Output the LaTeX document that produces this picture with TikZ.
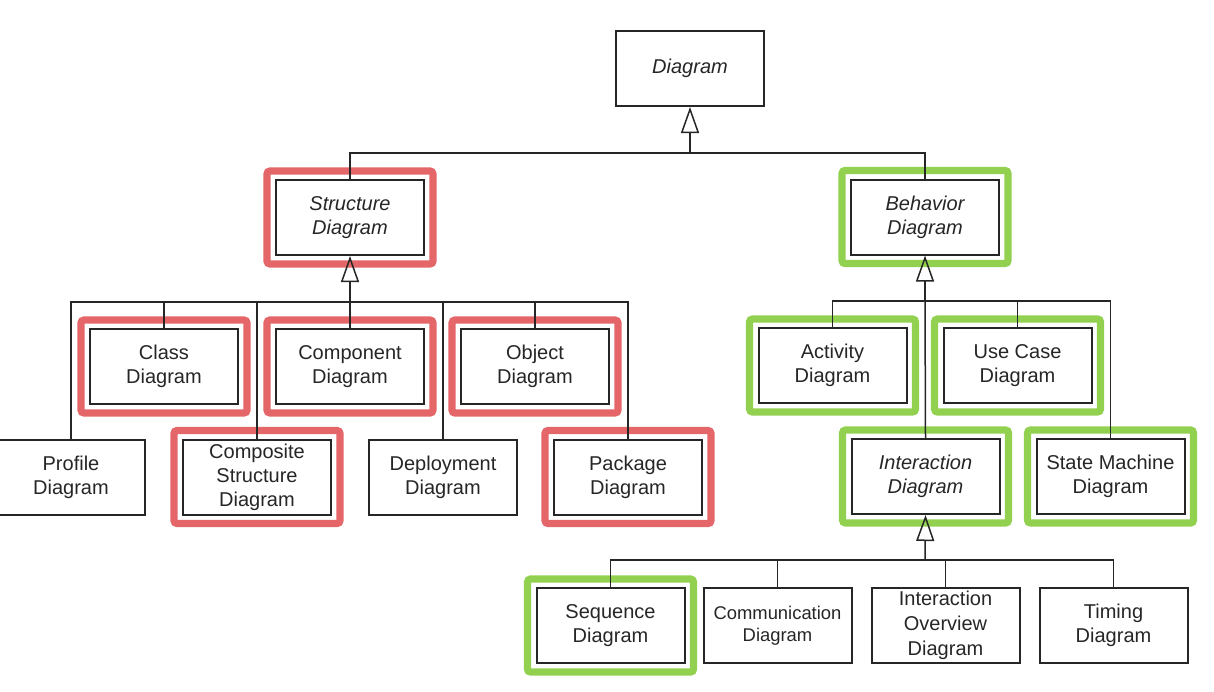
\documentclass[tikz,border=0pt]{standalone}
\usepackage{fontspec}
\setmainfont{Liberation Sans}
\usetikzlibrary{arrows.meta,fit}
\definecolor{hlred}{RGB}{228,102,104}
\definecolor{hlgreen}{RGB}{146,208,80}
\tikzset{font=\fontsize{10}{12}\selectfont,
  box/.style={draw=black!85,line width=1pt,fill=white,text=black!85,
    minimum width=74pt,minimum height=37.5pt,inner sep=0pt,align=center},
  abstract/.style={box,font=\fontsize{10}{12}\selectfont\itshape},
  link/.style={draw=black!85,line width=0.75pt},
  inherit/.style={link,-{Triangle[open,length=13pt,width=9pt]}},
  mark red/.style={draw=hlred,line width=3.6pt,inner sep=4pt,rounded corners=1.5pt},
  mark green/.style={draw=hlgreen,line width=3.6pt,inner sep=4pt,rounded corners=1.5pt}}
\begin{document}
\begin{tikzpicture}[x=0.5pt,y=-0.5pt]
  \useasboundingbox (0,0) rectangle (1214,691);
  % top
  \node[abstract] (diagram) at (690,68.5) {Diagram};
  \node[abstract] (structure) at (350,217.5) {Structure\\Diagram};
  \node[abstract] (behavior) at (925,217) {Behavior\\Diagram};
  % structure diagrams
  \node[box] (class) at (164,366.5) {Class\\Diagram};
  \node[box] (component) at (350,366.5) {Component\\Diagram};
  \node[box] (object) at (535,366.5) {Object\\Diagram};
  \node[box] (profile) at (71,477) {Profile\\Diagram};
  \node[box] (composite) at (257,477) {Composite\\Structure\\Diagram};
  \node[box] (deployment) at (443,477) {Deployment\\Diagram};
  \node[box] (package) at (628,477) {Package\\Diagram};
  % behavior diagrams
  \node[box] (activity) at (832.5,365.5) {Activity\\Diagram};
  \node[box] (usecase) at (1017.5,365.5) {Use Case\\Diagram};
  \node[abstract] (interaction) at (925.5,476.5) {Interaction\\Diagram};
  \node[box] (statemachine) at (1110.5,476.5) {State Machine\\Diagram};
  \node[box] (sequence) at (610.5,625.5) {Sequence\\Diagram};
  \node[box,font=\fontsize{9.2}{11}\selectfont] (communication) at (777.5,625.5) {Communication\\Diagram};
  \node[box,font=\fontsize{10}{12.5}\selectfont] (overview) at (945.5,625.5) {Interaction\\Overview\\Diagram};
  \node[box] (timing) at (1113.5,625.5) {Timing\\Diagram};

  \foreach \n in {structure,class,component,object,composite,package}
    \node[mark red,fit=(\n)] {};
  \foreach \n in {behavior,activity,usecase,interaction,statemachine,sequence}
    \node[mark green,fit=(\n)] {};

  \coordinate (b0) at (690,153);
  \coordinate (b1) at (350,302);
  \coordinate (b2) at (925,301);
  \coordinate (b3) at (925,560);

  \draw[inherit] (b0) -- (diagram.south);
  \draw[link] (structure.north) |- (b0) -| (behavior.north);

  \draw[inherit] (b1) -- (structure.south);
  \draw[link] (profile.north) |- (b1) -| (package.north);
  \foreach \n in {class,composite,component,deployment,object}
    \draw[link] (\n.north) -- (\n.north |- b1);

  \draw[inherit] (b2) -- (behavior.south);
  \draw[link] (b2) -- (interaction.north);
  \draw[link] (activity.north) |- (b2) -| (statemachine.north);
  \draw[link] (usecase.north) -- (usecase.north |- b2);

  \draw[inherit] (b3) -- (interaction.south);
  \draw[link] (sequence.north) |- (b3) -| (timing.north);
  \foreach \n in {communication,overview}
    \draw[link] (\n.north) -- (\n.north |- b3);
\end{tikzpicture}
\end{document}
